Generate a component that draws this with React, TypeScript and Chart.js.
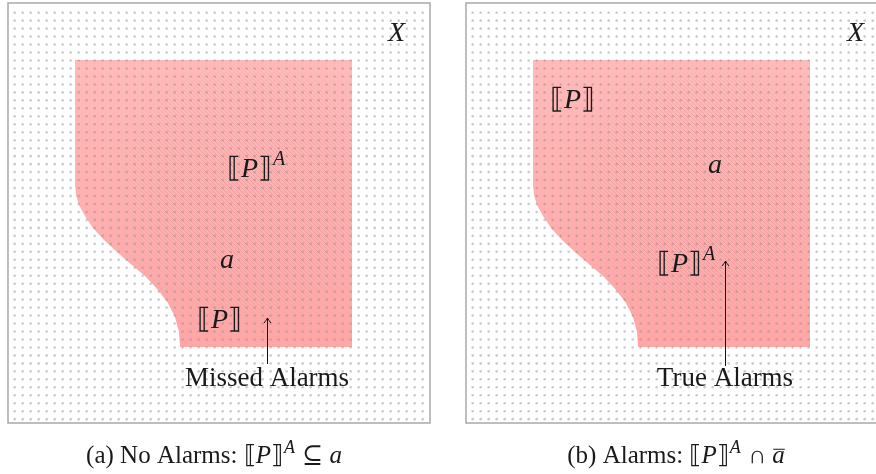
import { useEffect, useRef } from "react";
import { Chart, registerables } from "chart.js";
Chart.register(...registerables);

const W = 876;
const H = 474;

// panel frames
const frameLeft = [8, 466];
const frameRight = [430, 888];
const frameTop = [3, 3];
const frameBottom = [423, 423];

// horizontal offset of each panel
const panelOffset = [0, 458];

// outline of the shaded region (panel a coordinates)
const regionX = [75, 352, 352, 180, 179, 175, 168, 158, 146, 132, 118, 104, 93, 85, 79, 76, 75, 75];
const regionY = [60, 60, 347, 347, 332, 317, 303, 290, 277, 265, 253, 240, 228, 216, 205, 195, 185, 60];

// hatched zone (soft ellipse) per panel
const hatchCx = [250, 705];
const hatchCy = [190, 190];
const hatchR = [150, 150];

// arrows with labels
const arrowX = [267, 725];
const arrowFromY = [364, 366];
const arrowToY = [318, 261];
const arrowLabels = ["Missed Alarms", "True Alarms"];
const arrowLabelY = [386, 386];

// math labels inside the panels (left x, baseline y)
const labelText = ["⟦P⟧", "a", "⟦P⟧", "X", "⟦P⟧", "a", "⟦P⟧", "X"];
const labelSup = ["A", "", "", "", "", "", "A", ""];
const labelX = [227, 220, 197, 388, 550, 708, 657, 847];
const labelY = [177, 268, 328, 41, 108, 173, 272, 41];

// captions: [text, style]  r=roman i=italic s=superscript o=overlined italic
const captionA: [string, string][] = [["(a) No Alarms: ", "r"], ["⟦", "r"], ["P", "i"], ["⟧", "r"], ["A", "s"], [" ⊆ ", "r"], ["a", "i"]];
const captionB: [string, string][] = [["(b) Alarms: ", "r"], ["⟦", "r"], ["P", "i"], ["⟧", "r"], ["A", "s"], [" ∩ ", "r"], ["a", "o"]];
const captionCx = [214, 676];
const captionY = [463, 463];

const SERIF = "'Liberation Serif', 'DejaVu Serif', serif";

function splitMath(t: string): [string, string][] {
  const out: [string, string][] = [];
  for (const ch of t) {
    out.push([ch, /[A-Za-z]/.test(ch) ? "i" : "r"]);
  }
  return out;
}

function drawSegments(ctx: CanvasRenderingContext2D, segs: [string, string][], x: number, y: number, size: number, measureOnly = false) {
  let cx = x;
  for (const [t, st] of segs) {
    let font = `${size}px ${SERIF}`;
    let dy = 0;
    if (st === "i" || st === "o") font = `italic ${size}px ${SERIF}`;
    if (st === "s") {
      font = `italic ${Math.round(size * 0.7)}px ${SERIF}`;
      dy = -size * 0.42;
    }
    ctx.font = font;
    const w = ctx.measureText(t).width;
    if (!measureOnly) {
      ctx.fillText(t, cx + (st === "s" ? 1 : 0), y + dy);
      if (st === "o") {
        ctx.beginPath();
        ctx.lineWidth = 1;
        ctx.moveTo(cx + 1, y - size * 0.55);
        ctx.lineTo(cx + w, y - size * 0.55);
        ctx.stroke();
      }
    }
    cx += w + (st === "s" ? 2 : 0);
  }
  return cx - x;
}

const overlay = {
  id: "overlay",
  afterDatasetsDraw(chart: any) {
    const ctx: CanvasRenderingContext2D = chart.ctx;
    const xs = chart.scales.x;
    const ys = chart.scales.y;
    const px = (v: number) => xs.getPixelForValue(v);
    const py = (v: number) => ys.getPixelForValue(v);

    const regionPath = (p: number) => {
      ctx.beginPath();
      regionX.forEach((x, i) => {
        const X = px(x + panelOffset[p]);
        const Y = py(regionY[i]);
        if (i === 0) ctx.moveTo(X, Y);
        else ctx.lineTo(X, Y);
      });
      ctx.closePath();
    };

    ctx.save();
    // hatching (fading out from the centre)
    for (let p = 0; p < 2; p++) {
      ctx.save();
      regionPath(p);
      ctx.clip();
      const cx = px(hatchCx[p]);
      const cy = py(hatchCy[p]);
      const g = ctx.createRadialGradient(cx, cy, 0, cx, cy, hatchR[p]);
      g.addColorStop(0, "rgba(150,80,80,0.22)");
      g.addColorStop(0.6, "rgba(150,80,80,0.18)");
      g.addColorStop(1, "rgba(150,80,80,0)");
      ctx.strokeStyle = g;
      ctx.lineWidth = 0.8;
      ctx.beginPath();
      for (let k = -H; k < W + H; k += 4) {
        ctx.moveTo(k, 0);
        ctx.lineTo(k + H, H);
      }
      ctx.stroke();
      ctx.restore();
    }

    // dot grid
    for (let p = 0; p < 2; p++) {
      ctx.save();
      ctx.beginPath();
      ctx.rect(px(frameLeft[p]), py(frameTop[p]), px(frameRight[p]) - px(frameLeft[p]), py(frameBottom[p]) - py(frameTop[p]));
      ctx.clip();
      ctx.fillStyle = "rgba(140,140,140,0.45)";
      for (let y = frameTop[p] + 9.7; y < frameBottom[p] - 2; y += 7.97) {
        for (let x = frameLeft[p] + 6.7; x < frameRight[p] - 2; x += 8) {
          ctx.beginPath();
          ctx.arc(px(x), py(y), 1.3, 0, Math.PI * 2);
          ctx.fill();
        }
      }
      ctx.restore();
    }

    // frames
    ctx.strokeStyle = "#a9a9a9";
    ctx.lineWidth = 1.5;
    for (let p = 0; p < 2; p++) {
      ctx.strokeRect(px(frameLeft[p]), py(frameTop[p]), px(frameRight[p]) - px(frameLeft[p]), py(frameBottom[p]) - py(frameTop[p]));
    }

    // arrows
    ctx.strokeStyle = "#111";
    ctx.lineWidth = 1;
    for (let p = 0; p < 2; p++) {
      const X = Math.round(px(arrowX[p])) + 0.5;
      const y0 = py(arrowFromY[p]);
      const y1 = py(arrowToY[p]);
      ctx.beginPath();
      ctx.moveTo(X, y0);
      ctx.lineTo(X, y1);
      ctx.stroke();
      ctx.beginPath();
      ctx.moveTo(X - 3.5, y1 + 5);
      ctx.quadraticCurveTo(X - 1, y1 + 2, X, y1);
      ctx.quadraticCurveTo(X + 1, y1 + 2, X + 3.5, y1 + 5);
      ctx.stroke();
    }

    // arrow labels
    ctx.fillStyle = "#1a1a1a";
    ctx.textBaseline = "alphabetic";
    ctx.textAlign = "center";
    ctx.font = `27px ${SERIF}`;
    for (let p = 0; p < 2; p++) {
      ctx.fillText(arrowLabels[p], px(arrowX[p]), py(arrowLabelY[p]));
    }

    // math labels
    ctx.textAlign = "left";
    ctx.strokeStyle = "#1a1a1a";
    labelText.forEach((t, i) => {
      const segs = splitMath(t);
      if (labelSup[i]) segs.push([labelSup[i], "s"]);
      drawSegments(ctx, segs, px(labelX[i]), py(labelY[i]), 28);
    });

    // captions
    [captionA, captionB].forEach((segs, i) => {
      const w = drawSegments(ctx, segs, 0, 0, 25, true);
      drawSegments(ctx, segs, px(captionCx[i]) - w / 2, py(captionY[i]), 25);
    });
    ctx.restore();
  },
};

export default function App() {
  const ref = useRef<HTMLCanvasElement>(null);
  useEffect(() => {
    document.body.style.margin = "0";
    const canvas = ref.current!;
    const datasets = panelOffset.map((off) => ({
      data: regionX.map((x, i) => ({ x: x + off, y: regionY[i] })),
      showLine: true,
      fill: "shape" as any,
      borderWidth: 0,
      borderColor: "rgba(0,0,0,0)",
      pointRadius: 0,
      tension: 0,
      backgroundColor: (c: any) => {
        const chart = c.chart;
        const ys = chart.scales && chart.scales.y;
        if (!chart.chartArea || !ys) return "#ffb0b0";
        const t = ys.getPixelForValue(60);
        const b = ys.getPixelForValue(347);
        if (!isFinite(t) || !isFinite(b)) return "#ffb0b0";
        const g = chart.ctx.createLinearGradient(0, t, 0, b);
        g.addColorStop(0, "#ffbaba");
        g.addColorStop(1, "#ffa6a6");
        return g;
      },
    }));
    const chart = new Chart(canvas, {
      type: "scatter",
      data: { datasets },
      options: {
        responsive: false,
        animation: false,
        events: [],
        layout: { padding: 0 },
        plugins: { legend: { display: false }, tooltip: { enabled: false } },
        scales: {
          x: { type: "linear", min: 0, max: W, display: false },
          y: { type: "linear", min: 0, max: H, reverse: true, display: false },
        },
      },
      plugins: [overlay],
    });
    return () => chart.destroy();
  }, []);
  return (
    <div style={{ width: W, height: H, background: "#fff" }}>
      <canvas ref={ref} width={W} height={H} style={{ display: "block" }} />
    </div>
  );
}
